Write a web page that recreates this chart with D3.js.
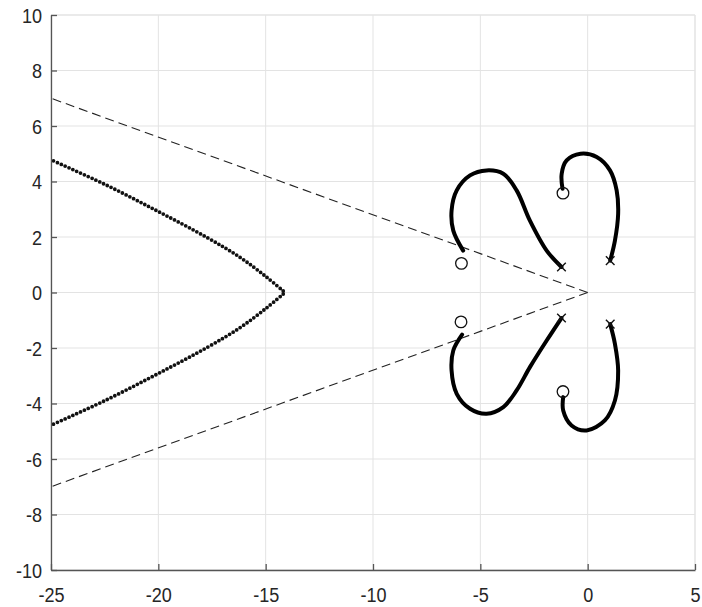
<!DOCTYPE html>
<html>
<head>
<meta charset="utf-8">
<script src="https://cdn.jsdelivr.net/npm/d3@7"></script>
<style>
  html, body { margin: 0; padding: 0; background: #fff; }
  svg { display: block; }
</style>
</head>
<body>
<svg id="chart" width="702" height="607"></svg>
<script>
// Axis ranges and tick values
const xDomain = [-25, 5];
const yDomain = [-10, 10];
const xTicks = [-25, -20, -15, -10, -5, 0, 5];
const yTicks = [-10, -8, -6, -4, -2, 0, 2, 4, 6, 8, 10];

// Open-loop poles (x) and zeros (o), as [re, im]
const poles = [[-1.22, 0.92], [-1.22, -0.92], [1.05, 1.15], [1.05, -1.14]];
const zeros = [[-5.88, 1.05], [-5.9, -1.06], [-1.15, 3.58], [-1.15, -3.57]];

// Root-locus branches (solid), [re, im]
const branchUpperLeft = [[-1.22, 0.92], [-1.91, 1.51], [-2.69, 2.59], [-3.31, 3.68], [-3.93, 4.28],
  [-4.71, 4.40], [-5.48, 4.22], [-6.10, 3.68], [-6.34, 2.95], [-6.26, 2.23], [-5.80, 1.51]];
const branchLowerLeft = [[-1.22, -0.92], [-1.91, -1.73], [-2.69, -2.69], [-3.31, -3.53], [-3.93, -4.13],
  [-4.71, -4.37], [-5.48, -4.19], [-6.10, -3.65], [-6.34, -2.81], [-6.26, -2.09], [-5.85, -1.52]];
const branchUpperRight = [[1.05, 1.15], [1.27, 1.87], [1.42, 2.84], [1.35, 3.68], [1.04, 4.40],
  [0.42, 4.88], [-0.33, 5.00], [-0.98, 4.76], [-1.21, 4.28], [-1.17, 3.74]];
const branchLowerRight = [[1.05, -1.14], [1.27, -1.85], [1.42, -2.81], [1.27, -3.89], [0.80, -4.61],
  [-0.05, -4.97], [-0.75, -4.79], [-1.14, -4.25], [-1.14, -3.77]];

// Far-left branch pair, drawn with dot markers
const branchFarUpper = [[-25.05, 4.80], [-22.5, 3.90], [-20.08, 2.95], [-17.75, 1.99], [-16.2, 1.27], [-14.95, 0.55], [-14.1, 0]];
const branchFarLower = [[-25.05, -4.80], [-22.5, -3.90], [-20.08, -2.95], [-17.75, -1.99], [-16.2, -1.27], [-14.95, -0.55], [-14.1, 0]];

// Asymptotes (dashed)
const asymptotes = [[[0, 0], [-25, 7]], [[0, 0], [-25, -7]]];

const svg = d3.select("#chart");
const box = { left: 51, right: 695, top: 15, bottom: 570 };

const x = d3.scaleLinear().domain(xDomain).range([box.left, box.right]);
const y = d3.scaleLinear().domain(yDomain).range([box.bottom, box.top]);

// Clip region for plotted data
svg.append("defs").append("clipPath").attr("id", "plotclip")
  .append("rect").attr("x", box.left).attr("y", box.top)
  .attr("width", box.right - box.left).attr("height", box.bottom - box.top);

// Grid
const grid = svg.append("g");
grid.selectAll(".gx").data(xTicks).join("line")
  .attr("x1", d => x(d)).attr("x2", d => x(d)).attr("y1", box.top).attr("y2", box.bottom)
  .attr("stroke", "#e3e3e3").attr("stroke-width", 1);
grid.selectAll(".gy").data(yTicks).join("line")
  .attr("x1", box.left).attr("x2", box.right).attr("y1", d => y(d)).attr("y2", d => y(d))
  .attr("stroke", "#e3e3e3").attr("stroke-width", 1);

const plot = svg.append("g").attr("clip-path", "url(#plotclip)");
const line = d3.line().x(d => x(d[0])).y(d => y(d[1]));
const smooth = d3.line().x(d => x(d[0])).y(d => y(d[1])).curve(d3.curveCatmullRom.alpha(0.5));

// Asymptotes
plot.selectAll(".asym").data(asymptotes).join("path")
  .attr("d", line).attr("fill", "none").attr("stroke", "#222").attr("stroke-width", 1.1)
  .attr("stroke-dasharray", "9,5");

// Dotted far branches
plot.selectAll(".far").data([branchFarUpper, branchFarLower]).join("path")
  .attr("d", smooth).attr("fill", "none").attr("stroke", "#111").attr("stroke-width", 3.8)
  .attr("stroke-linecap", "round").attr("stroke-dasharray", "0 4.2");

// Solid branches
plot.selectAll(".branch").data([branchUpperLeft, branchLowerLeft, branchUpperRight, branchLowerRight]).join("path")
  .attr("d", smooth).attr("fill", "none").attr("stroke", "#000").attr("stroke-width", 4)
  .attr("stroke-linecap", "round").attr("stroke-linejoin", "round");

// Zeros
plot.selectAll(".zero").data(zeros).join("circle")
  .attr("cx", d => x(d[0])).attr("cy", d => y(d[1])).attr("r", 5.8)
  .attr("fill", "none").attr("stroke", "#111").attr("stroke-width", 1.3);

// Poles
const s = 4.3;
plot.selectAll(".pole").data(poles).join("path")
  .attr("d", d => {
    const cx = x(d[0]), cy = y(d[1]);
    return `M${cx - s},${cy - s}L${cx + s},${cy + s}M${cx - s},${cy + s}L${cx + s},${cy - s}`;
  })
  .attr("stroke", "#111").attr("stroke-width", 1.4).attr("fill", "none");

// Box: light top/right
svg.append("line").attr("x1", box.left).attr("x2", box.right).attr("y1", box.top).attr("y2", box.top)
  .attr("stroke", "#e3e3e3").attr("stroke-width", 1);
svg.append("line").attr("x1", box.right).attr("x2", box.right).attr("y1", box.top).attr("y2", box.bottom)
  .attr("stroke", "#e3e3e3").attr("stroke-width", 1);

// Axes (plain hyphen-minus in labels)
const fmt = d => String(d);
const xAxis = d3.axisBottom(x).tickValues(xTicks).tickSizeInner(-6).tickSizeOuter(0).tickFormat(fmt);
const yAxis = d3.axisLeft(y).tickValues(yTicks).tickSizeInner(-6).tickSizeOuter(0).tickFormat(fmt);

const gx = svg.append("g").attr("transform", `translate(0,${box.bottom})`).call(xAxis);
const gy = svg.append("g").attr("transform", `translate(${box.left},0)`).call(yAxis);
[gx, gy].forEach(g => {
  g.select(".domain").attr("stroke", "#555").attr("stroke-width", 1.3);
  g.selectAll(".tick line").attr("stroke", "#555").attr("stroke-width", 1.3);
  g.selectAll(".tick text").attr("fill", "#262626")
    .style("font-family", "'Liberation Sans', Arial, sans-serif").style("font-size", "21px");
});
gx.selectAll(".tick text").attr("y", 0).attr("dy", 0)
  .attr("transform", "translate(0,32) scale(0.86,1)");
gy.selectAll(".tick text").attr("x", 0).attr("dy", "0.35em")
  .attr("transform", "translate(-9,0) scale(0.86,1)");
</script>
</body>
</html>
